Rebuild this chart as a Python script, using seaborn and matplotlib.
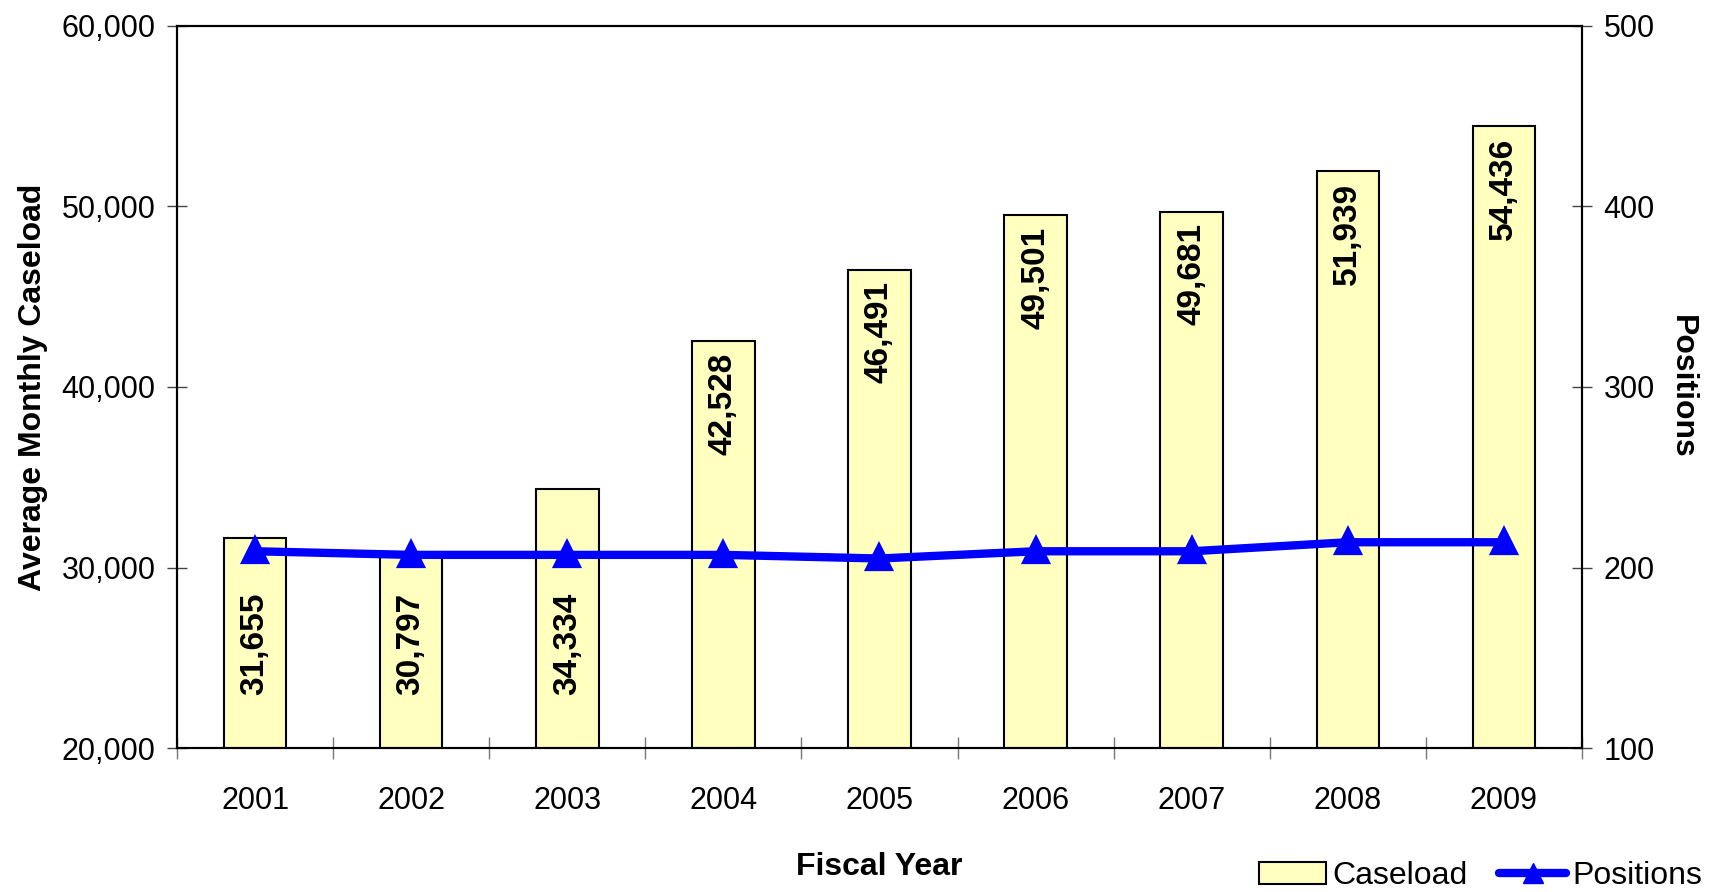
import pandas as pd
import seaborn as sns
import matplotlib
matplotlib.use("Agg")
import matplotlib.pyplot as plt
from matplotlib.ticker import FuncFormatter, FixedLocator
from matplotlib.patches import Patch
from matplotlib.lines import Line2D

# Chart data
years = ["2001", "2002", "2003", "2004", "2005", "2006", "2007", "2008", "2009"]
caseload = [31655, 30797, 34334, 42528, 46491, 49501, 49681, 51939, 54436]
positions = [209, 207, 207, 207, 205, 209, 209, 214, 214]

df = pd.DataFrame({"year": years, "caseload": caseload, "positions": positions})

sns.set_theme(style="white")
plt.rcParams["font.family"] = ["Liberation Sans", "DejaVu Sans"]
plt.rcParams["text.color"] = "black"
plt.rcParams["axes.labelcolor"] = "black"
plt.rcParams["xtick.color"] = "black"
plt.rcParams["ytick.color"] = "black"

fig = plt.figure(figsize=(17.24, 8.92), dpi=100)
ax = fig.add_axes([0.1027, 0.1614, 0.8149, 0.8095])

bar_color = "#FFFFC0"
sns.barplot(data=df, x="year", y="caseload", ax=ax, color=bar_color,
            width=0.40, edgecolor="black", linewidth=1.5, saturation=1)

ax.set_ylim(20000, 60000)
ax.set_xlim(-0.5, len(years) - 0.5)
ax.yaxis.set_major_locator(FixedLocator([20000, 30000, 40000, 50000, 60000]))
ax.yaxis.set_major_formatter(FuncFormatter(lambda v, p: f"{int(v):,}"))

# Bar value labels
for i, v in enumerate(caseload):
    if v < 40000:
        ax.annotate(f"{v:,}", xy=(i, 20000), xytext=(0, 38), textcoords="offset points",
                    rotation=90, ha="center", va="bottom", fontsize=24, fontweight="bold",
                    color="black")
    else:
        ax.annotate(f"{v:,}", xy=(i, v), xytext=(0, -8), textcoords="offset points",
                    rotation=90, ha="center", va="top", fontsize=24, fontweight="bold",
                    color="black")

ax.set_xlabel("Fiscal Year", fontsize=23, fontweight="bold", labelpad=26)
ax.set_ylabel("Average Monthly Caseload", fontsize=23, fontweight="bold", labelpad=10)

# Secondary axis for positions
ax2 = ax.twinx()
sns.pointplot(data=df, x="year", y="positions", ax=ax2, color="#0000FF",
              markers="^", linestyles="-", markersize=14, linewidth=6)
ax2.set_ylim(100, 500)
ax2.yaxis.set_major_locator(FixedLocator([100, 200, 300, 400, 500]))
ax2.set_xlim(-0.5, len(years) - 0.5)
ax2.set_ylabel("Positions", fontsize=23, fontweight="bold", rotation=270, labelpad=30)

for a in (ax, ax2):
    for s in a.spines.values():
        s.set_visible(True)
        s.set_color("black")
        s.set_linewidth(1.5)

ax.tick_params(axis="y", which="major", direction="inout", length=15, width=1,
               color="#444444", labelcolor="black", labelsize=22, pad=8)
ax2.tick_params(axis="y", which="major", direction="inout", length=15, width=1,
                color="#444444", labelcolor="black", labelsize=22, pad=8, right=True)
ax.tick_params(axis="x", which="major", length=0, labelsize=22, labelcolor="black", pad=27)
ax.xaxis.set_minor_locator(FixedLocator([i - 0.5 for i in range(len(years) + 1)]))
ax.tick_params(axis="x", which="minor", direction="inout", length=16, width=1,
               color="#777777", bottom=True)

# Legend
handles = [Patch(facecolor=bar_color, edgecolor="black", linewidth=1.5, label="Caseload"),
           Line2D([0], [0], color="#0000FF", lw=6, marker="^", markersize=14, label="Positions")]
fig.legend(handles=handles, loc="center right", bbox_to_anchor=(0.995, 0.018), ncol=2,
           frameon=False, fontsize=23, handlelength=2.1, handletextpad=0.2,
           columnspacing=1.0, borderaxespad=0, labelcolor="black")

plt.savefig("out.png", dpi=100, facecolor="white")
